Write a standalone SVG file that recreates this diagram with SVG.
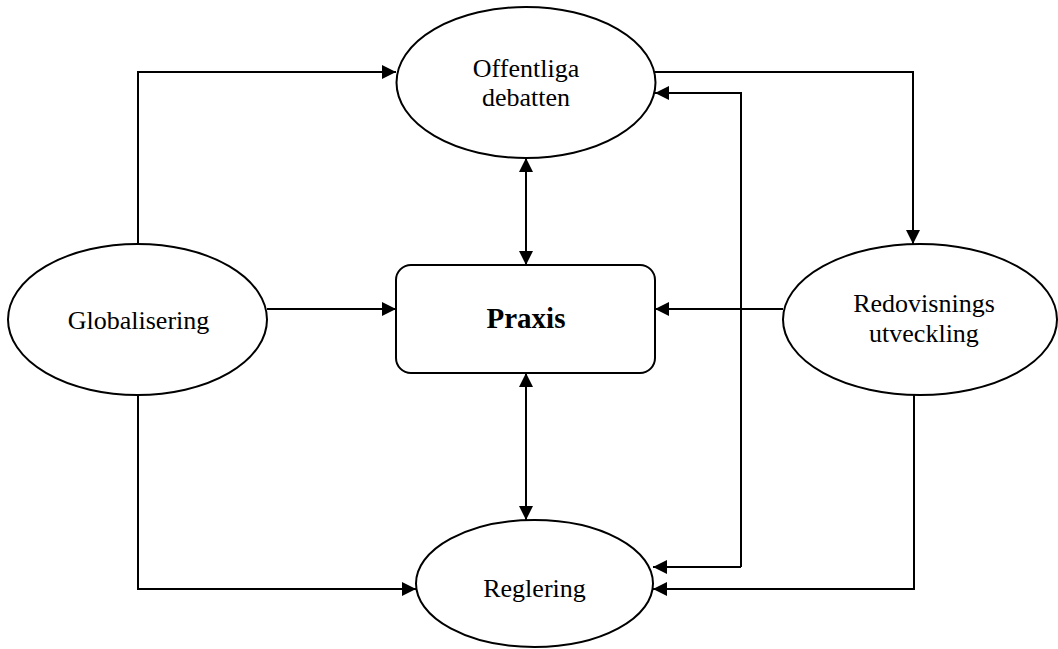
<svg xmlns="http://www.w3.org/2000/svg" width="1058" height="649" viewBox="0 0 1058 649">
<style>
.node{fill:#fff;stroke:#000;stroke-width:2}
.lbl{font-family:"Liberation Serif","Times New Roman",serif;font-size:26px;fill:#000;text-anchor:middle}
.bold{font-weight:bold;font-size:29px}
.conn{fill:none;stroke:#000;stroke-width:2}
</style>
<defs>
<marker id="ah" markerUnits="userSpaceOnUse" markerWidth="14" markerHeight="14" refX="14" refY="7" orient="auto-start-reverse">
<path d="M0,0 L14,7 L0,14 z" fill="#000"/>
</marker>
</defs>
<g id="connectors">
<path class="conn" d="M138,244 V72 H396" marker-end="url(#ah)"/>
<path class="conn" d="M267,309 H396" marker-end="url(#ah)"/>
<path class="conn" d="M138,395 V589 H416" marker-end="url(#ah)"/>
<path class="conn" d="M655,72 H913 V244" marker-end="url(#ah)"/>
<path class="conn" d="M741,567 V93 H655" marker-end="url(#ah)"/>
<path class="conn" d="M741,567 H653" marker-end="url(#ah)"/>
<path class="conn" d="M783,309 H655" marker-end="url(#ah)"/>
<path class="conn" d="M914,395 V589 H653" marker-end="url(#ah)"/>
<path class="conn" d="M526,158 V265" marker-start="url(#ah)" marker-end="url(#ah)"/>
<path class="conn" d="M526,373 V520" marker-start="url(#ah)" marker-end="url(#ah)"/>
</g>
<g id="offentliga">
<ellipse class="node" cx="526" cy="82.5" rx="129.5" ry="75.5"/>
<text class="lbl" x="526" y="77">Offentliga</text>
<text class="lbl" x="526" y="106">debatten</text>
</g>
<g id="praxis">
<rect class="node" x="396" y="265" width="259" height="108" rx="15" ry="15"/>
<text class="lbl bold" x="526" y="328">Praxis</text>
</g>
<g id="globalisering">
<ellipse class="node" cx="137.5" cy="319.5" rx="129.5" ry="75.5"/>
<text class="lbl" x="138.5" y="329">Globalisering</text>
</g>
<g id="redovisnings">
<ellipse class="node" cx="920" cy="319.5" rx="137" ry="75.5"/>
<text class="lbl" x="924" y="312">Redovisnings</text>
<text class="lbl" x="924" y="342">utveckling</text>
</g>
<g id="reglering">
<ellipse class="node" cx="534.5" cy="583.5" rx="118.5" ry="63.5"/>
<text class="lbl" x="534.5" y="597">Reglering</text>
</g>
</svg>
